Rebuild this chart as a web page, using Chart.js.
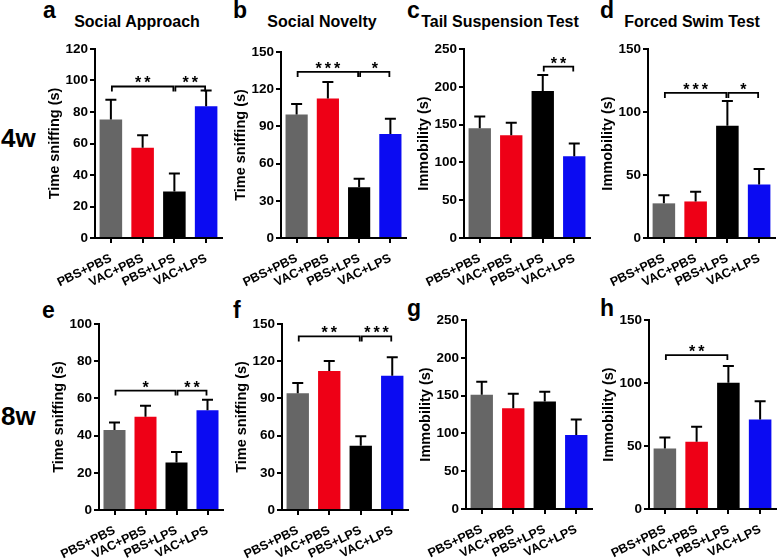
<!DOCTYPE html>
<html>
<head>
<meta charset="utf-8">
<script src="https://cdn.jsdelivr.net/npm/chart.js@4.4.1/dist/chart.umd.min.js"></script>
<style>
  html, body { margin: 0; padding: 0; background: #fff; }
  body { width: 778px; height: 559px; position: relative; overflow: hidden;
         font-family: "Liberation Sans", Arial, sans-serif; font-weight: bold; color: #000; }
  canvas { position: absolute; }
  .t { position: absolute; white-space: nowrap; line-height: 1; }
  .c { transform: translateX(-50%); }
</style>
</head>
<body>
<!-- panel letters -->
<div class="t" style="left:43px;top:-1px;font-size:23px">a</div>
<div class="t" style="left:233px;top:-1px;font-size:23px">b</div>
<div class="t" style="left:407px;top:-1px;font-size:23px">c</div>
<div class="t" style="left:600px;top:-1px;font-size:23px">d</div>
<div class="t" style="left:42px;top:299px;font-size:23px">e</div>
<div class="t" style="left:233px;top:299px;font-size:23px">f</div>
<div class="t" style="left:407px;top:297px;font-size:23px">g</div>
<div class="t" style="left:600px;top:297px;font-size:23px">h</div>
<!-- titles -->
<div class="t c" style="left:137px;top:14px;font-size:16px">Social Approach</div>
<div class="t c" style="left:322px;top:14px;font-size:16px">Social Novelty</div>
<div class="t c" style="left:500px;top:14px;font-size:16px">Tail Suspension Test</div>
<div class="t c" style="left:692px;top:14px;font-size:16px">Forced Swim Test</div>
<!-- row labels -->
<div class="t" style="left:1px;top:125px;font-size:26px">4w</div>
<div class="t" style="left:1px;top:403px;font-size:26px">8w</div>

<script>
const groups = ['PBS+PBS', 'VAC+PBS', 'PBS+LPS', 'VAC+LPS'];
const barColors = ['#666666', '#ee0016', '#000000', '#0b0bf2'];

// 4 weeks: means and SEM (upper error only)
const approach4w = [75.2, 57.3, 29.5, 83.6];
const approach4wSem = [12.6, 8.0, 11.5, 10.1];
const novelty4w = [99.5, 112.4, 40.9, 83.9];
const novelty4wSem = [8.5, 13.4, 6.9, 12.3];
const tail4w = [145.2, 136.0, 194.5, 108.3];
const tail4wSem = [15.5, 16.3, 21.2, 16.7];
const swim4w = [27.5, 29.0, 89.0, 42.5];
const swim4wSem = [6.5, 7.7, 19.8, 12.2];

// 8 weeks
const approach8w = [43.0, 50.2, 25.6, 53.6];
const approach8wSem = [4.1, 5.9, 5.6, 5.7];
const novelty8w = [94.1, 112.1, 51.9, 108.3];
const novelty8wSem = [8.3, 8.1, 7.5, 14.8];
const tail8w = [151.0, 133.4, 142.2, 98.0];
const tail8wSem = [17.3, 19.0, 12.8, 20.4];
const swim8w = [48.0, 53.3, 100.2, 71.0];
const swim8wSem = [8.7, 11.9, 13.2, 14.6];

// y axis ranges (max, step)
const yMax = [120, 150, 250, 150, 100, 150, 250, 150];
const yStep = [20, 30, 50, 50, 20, 30, 50, 50];
const yTitles = ['Time sniffing (s)', 'Time sniffing (s)', 'Immobility (s)', 'Immobility (s)',
                 'Time sniffing (s)', 'Time sniffing (s)', 'Immobility (s)', 'Immobility (s)'];

// significance brackets: [from group, to group, level, stars]
const sig = [
  [[0, 2, 96.2, '**'], [2, 3, 96.2, '**']],
  [[0, 2, 133.9, '***'], [2, 3, 133.9, '*']],
  [[2, 3, 226.7, '**']],
  [[0, 2, 115.1, '***'], [2, 3, 115.1, '*']],
  [[0, 2, 64.2, '*'], [2, 3, 64.2, '**']],
  [[0, 2, 140, '**'], [2, 3, 140, '***']],
  [],
  [[0, 2, 122.2, '**']]
];

const means = [approach4w, novelty4w, tail4w, swim4w, approach8w, novelty8w, tail8w, swim8w];
const sems = [approach4wSem, novelty4wSem, tail4wSem, swim4wSem, approach8wSem, novelty8wSem, tail8wSem, swim8wSem];

// plot area boxes in page pixels: left, top, width, height
const boxes = [
  [95, 49, 127, 189], [281, 52, 125, 186], [464, 49, 126, 189], [648, 49, 127, 189],
  [99, 324, 124, 186], [282, 324, 126, 186], [466, 320, 126, 189], [649, 320, 127, 189]
];

const FONT = '"Liberation Sans", Arial, sans-serif';
const YW = 52, XH = 58, PT = 12, PR = 8;

const errorMarks = {
  id: 'errorMarks',
  afterDatasetsDraw(chart, args, opts) {
    const ctx = chart.ctx;
    const y = chart.scales.y;
    const meta = chart.getDatasetMeta(0);
    const vals = chart.data.datasets[0].data;
    ctx.save();
    ctx.strokeStyle = '#000';
    ctx.fillStyle = '#000';
    ctx.lineWidth = 2;
    meta.data.forEach((bar, i) => {
      const top = y.getPixelForValue(vals[i] + opts.sem[i]);
      ctx.beginPath();
      ctx.moveTo(bar.x, bar.y);
      ctx.lineTo(bar.x, top);
      ctx.moveTo(bar.x - 5.5, top);
      ctx.lineTo(bar.x + 5.5, top);
      ctx.stroke();
    });
    ctx.lineWidth = 1.8;
    ctx.font = 'bold 16px ' + FONT;
    ctx.textAlign = 'center';
    ctx.textBaseline = 'alphabetic';
    if ('letterSpacing' in ctx) ctx.letterSpacing = '3px';
    opts.brackets.forEach(([a, b, level, stars]) => {
      const x1 = meta.data[a].x + 1, x2 = meta.data[b].x - 1;
      const yy = y.getPixelForValue(level);
      ctx.beginPath();
      ctx.moveTo(x1, yy + 5);
      ctx.lineTo(x1, yy);
      ctx.lineTo(x2, yy);
      ctx.lineTo(x2, yy + 5);
      ctx.stroke();
      ctx.fillText(stars, (x1 + x2) / 2 + 1.5, yy + 2);
    });
    ctx.restore();
  }
};

boxes.forEach((box, k) => {
  const [L, T, W, H] = box;
  const cv = document.createElement('canvas');
  const cw = YW + W + PR, ch = PT + H + XH;
  cv.width = cw;
  cv.height = ch;
  cv.style.left = (L - YW) + 'px';
  cv.style.top = (T - PT) + 'px';
  cv.style.width = cw + 'px';
  cv.style.height = ch + 'px';
  document.body.appendChild(cv);

  new Chart(cv.getContext('2d'), {
    type: 'bar',
    data: {
      labels: groups,
      datasets: [{
        data: means[k],
        backgroundColor: barColors,
        borderWidth: 0,
        barPercentage: 0.71,
        categoryPercentage: 1
      }]
    },
    options: {
      responsive: false,
      animation: false,
      devicePixelRatio: 1,
      layout: { padding: { top: PT, right: PR, left: 0, bottom: 0 } },
      plugins: {
        legend: { display: false },
        tooltip: { enabled: false },
        errorMarks: { sem: sems[k], brackets: sig[k] }
      },
      scales: {
        x: {
          grid: { drawOnChartArea: false, offset: false, color: '#000', lineWidth: 2, tickLength: 5 },
          border: { color: '#000', width: 2 },
          ticks: {
            color: '#000', autoSkip: false, minRotation: 26, maxRotation: 26, padding: 8,
            font: { family: FONT, size: 12.5, weight: 'bold' }
          },
          afterFit: s => { s.height = XH; }
        },
        y: {
          min: 0,
          max: yMax[k],
          grid: { drawOnChartArea: false, color: '#000', lineWidth: 2, tickLength: 5 },
          border: { color: '#000', width: 2 },
          ticks: {
            stepSize: yStep[k], color: '#000', padding: 2,
            font: { family: FONT, size: 13.5, weight: 'bold' }
          },
          title: {
            display: true, text: yTitles[k], color: '#000',
            font: { family: FONT, size: 14.5, weight: 'bold' },
            padding: { top: 3, bottom: 0 }
          },
          afterFit: s => { s.width = YW; }
        }
      }
    },
    plugins: [errorMarks]
  });
});
</script>
</body>
</html>
